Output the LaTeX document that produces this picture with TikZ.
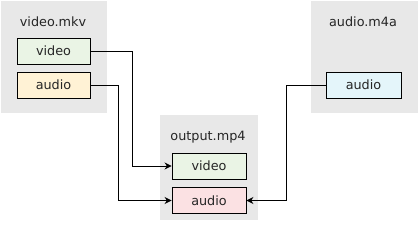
\documentclass[tikz,border=0pt]{standalone}
\usepackage{fontspec}
\setmainfont{DejaVu Sans}
\usepackage{xcolor}
\usetikzlibrary{arrows.meta,positioning}

\definecolor{clustergray}{HTML}{E8E8E8}
\definecolor{videogreen}{HTML}{EAF4E5}
\definecolor{audioyellow}{HTML}{FFF2D5}
\definecolor{audioblue}{HTML}{E4F5FA}
\definecolor{audiopink}{HTML}{FBE1E3}

\begin{document}
\begin{tikzpicture}[
    x=1pt, y=-1pt,
    cluster/.style={rectangle, fill=clustergray, draw=none, inner sep=0pt},
    title/.style={font=\fontsize{12.8}{15}\selectfont, text=black!85},
    block/.style={rectangle, draw, line width=0.9pt, minimum width=73pt, minimum height=26pt, inner sep=0pt, font=\fontsize{12.8}{15}\selectfont, text=black!85},
    arrow/.style={-{Stealth[length=7pt,width=7pt]}, line width=0.9pt, color=black}
]
    \useasboundingbox (0,0) rectangle (418,232);

    % Clusters
    \node[cluster, minimum width=106pt, minimum height=112pt] (mkv) at (54,57) {};
    \node[cluster, minimum width=107pt, minimum height=112pt] (m4a) at (364.5,57) {};
    \node[cluster, minimum width=98pt, minimum height=105pt] (mp4) at (209,167.5) {};

    % Cluster titles
    \node[title] (mkvtitle) at (53,22) {video.mkv};
    \node[title] (m4atitle) at (363,22) {audio.m4a};
    \node[title] (mp4title) at (208,137) {output.mp4};

    % Streams
    \node[block, fill=videogreen] (mkvvideo) at (53.5,51) {video};
    \node[block, fill=audioyellow] (mkvaudio) at (53.5,85) {audio};
    \node[block, fill=audioblue, minimum width=75pt] (m4aaudio) at (363.5,85) {audio};
    \node[block, fill=videogreen, minimum width=74pt] (outvideo) at (209,166) {video};
    \node[block, fill=audiopink, minimum width=74pt] (outaudio) at (209,200.5) {audio};

    % Arrows
    \draw[arrow] (mkvvideo.east) -- ++(41.5,0) |- (outvideo.west);
    \draw[arrow] (mkvaudio.east) -- ++(28,0) |- (outaudio.west);
    \draw[arrow] (m4aaudio.west) -- ++(-39,0) |- (outaudio.east);
\end{tikzpicture}
\end{document}
